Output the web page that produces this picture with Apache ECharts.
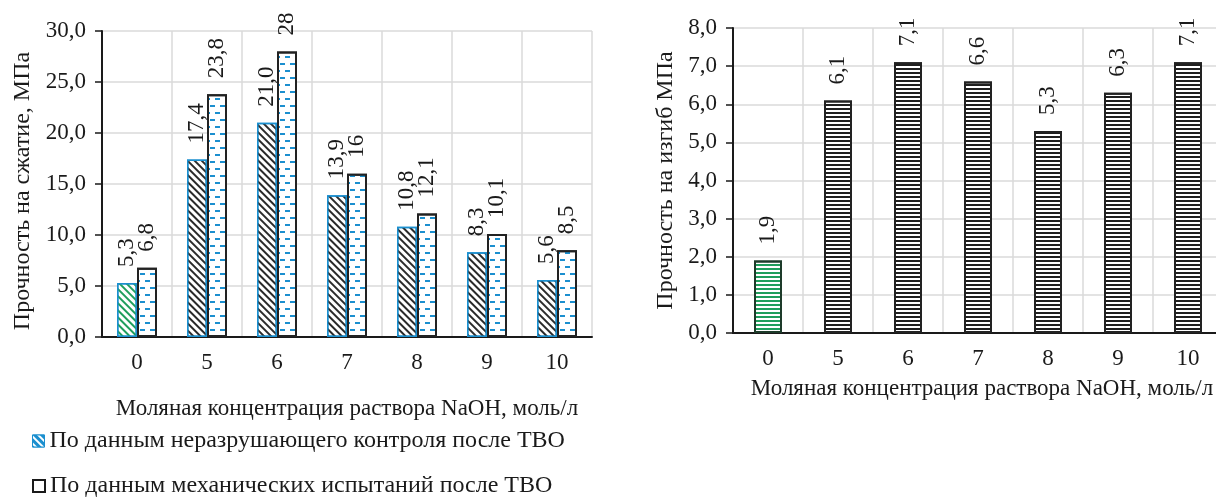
<!DOCTYPE html>
<html>
<head>
<meta charset="utf-8">
<script src="https://cdn.jsdelivr.net/npm/echarts@6/dist/echarts.min.js"></script>
<style>
  html, body { margin: 0; padding: 0; background: #ffffff; overflow: hidden; }
  #wrap { width: 1216px; height: 497px; overflow: hidden; }
  #chart { width: 1232px; height: 497px; }
</style>
</head>
<body>
<div id="wrap"><div id="chart"></div></div>
<script>
// NaOH molar concentration, mol/l
const categories = ['0', '5', '6', '7', '8', '9', '10'];

// Compressive strength, MPa
const ndtValues = [5.3, 17.4, 21.0, 13.9, 10.8, 8.3, 5.6];
const ndtLabels = ['5,3', '17,4', '21,0', '13,9', '10,8', '8,3', '5,6'];
const mechValues = [6.8, 23.8, 28, 16, 12.1, 10.1, 8.5];
const mechLabels = ['6,8', '23,8', '28', '16', '12,1', '10,1', '8,5'];

// Flexural strength, MPa
const bendValues = [1.9, 6.1, 7.1, 6.6, 5.3, 6.3, 7.1];
const bendLabels = ['1,9', '6,1', '7,1', '6,6', '5,3', '6,3', '7,1'];

// Y tick labels
const compressTicks = ['0,0', '5,0', '10,0', '15,0', '20,0', '25,0', '30,0'];
const bendTicks = ['0,0', '1,0', '2,0', '3,0', '4,0', '5,0', '6,0', '7,0', '8,0'];

const seriesNames = [
  'По данным неразрушающего контроля после ТВО',
  'По данным механических испытаний после ТВО'
];

const FONT = "'Liberation Serif', 'DejaVu Serif', serif";
const FS = 23;
const TEXT = '#1a1a1a';
const BLUE = '#1b8fcf';
const GREEN = '#1f9e5c';
const GRID = '#dadada';

const chart = echarts.init(document.getElementById('chart'), null, { renderer: 'canvas' });

const hatch = (color) => ({
  symbol: 'rect', symbolSize: 1,
  dashArrayX: [1, 0], dashArrayY: [1.8, 2.4],
  rotation: Math.PI / 4,
  color: color, backgroundColor: 'rgba(0,0,0,0)'
});
const dashes = {
  symbol: 'rect', symbolSize: 1,
  dashArrayX: [[5, 5], [0, 5, 5, 0]], dashArrayY: [2, 5],
  rotation: 0,
  color: BLUE, backgroundColor: 'rgba(0,0,0,0)'
};
const stripes = (color) => ({
  symbol: 'rect', symbolSize: 1,
  dashArrayX: [1, 0], dashArrayY: [1.2, 1.8],
  rotation: 0,
  color: color, backgroundColor: 'rgba(0,0,0,0)'
});

const valueLabel = (texts) => ({
  show: true,
  position: 'top',
  rotate: 90,
  align: 'left',
  verticalAlign: 'middle',
  distance: 16,
  fontFamily: FONT,
  fontSize: FS,
  color: TEXT,
  formatter: (p) => texts[p.dataIndex]
});

const catAxis = (gridIndex, nameGap, namePad) => ({
  type: 'category',
  gridIndex: gridIndex,
  data: categories,
  name: 'Моляная концентрация раствора NaOH, моль/л',
  nameLocation: 'middle',
  nameGap: nameGap,
  nameTextStyle: { fontFamily: FONT, fontSize: FS, color: TEXT, padding: namePad },
  axisLine: { lineStyle: { color: TEXT, width: 2 } },
  axisTick: { show: false },
  axisLabel: { fontFamily: FONT, fontSize: FS, color: TEXT, margin: 14 },
  splitLine: { show: true, lineStyle: { color: GRID, width: 1.5 } }
});

const valAxis = (gridIndex, max, interval, ticks, name, nameGap, namePad) => ({
  type: 'value',
  gridIndex: gridIndex,
  min: 0, max: max, interval: interval,
  name: name,
  nameLocation: 'middle',
  nameGap: nameGap,
  nameTextStyle: { fontFamily: FONT, fontSize: 24, color: TEXT, padding: namePad },
  axisLine: { show: true, lineStyle: { color: TEXT, width: 2 } },
  axisTick: { show: true, length: 7, lineStyle: { color: TEXT, width: 1.5 } },
  axisLabel: {
    fontFamily: FONT, fontSize: FS, color: TEXT, margin: 16,
    formatter: (v) => ticks[Math.round(v / interval)]
  },
  splitLine: { show: true, lineStyle: { color: GRID, width: 1.5 } }
});

const legendBox = (idx, top, style) => ({
  data: [{ name: seriesNames[idx], itemStyle: style }],
  orient: 'vertical',
  left: 32,
  top: top,
  padding: 0,
  itemWidth: 12,
  itemHeight: 12,
  itemGap: 4,
  icon: 'rect',
  textStyle: { fontFamily: FONT, fontSize: 24, color: TEXT, padding: [0, 0, 0, 0] }
});

const option = {
  backgroundColor: '#ffffff',
  animation: false,
  textStyle: { fontFamily: FONT },
  legend: [
    legendBox(0, 429, {
      color: BLUE, borderColor: BLUE, borderWidth: 1,
      decal: { symbol: 'rect', symbolSize: 1, dashArrayX: [1, 0], dashArrayY: [1.2, 2.2],
               rotation: Math.PI / 4, color: '#ffffff', backgroundColor: 'rgba(0,0,0,0)' }
    }),
    legendBox(1, 474, { color: '#ffffff', borderColor: TEXT, borderWidth: 2, decal: 'none' })
  ],
  grid: [
    { left: 102, top: 31, width: 490, height: 306 },
    { left: 733, top: 28, width: 490, height: 305 }
  ],
  xAxis: [catAxis(0, 60, [0, 0, 0, 0]), catAxis(1, 44, [0, 0, 0, 8])],
  yAxis: [
    valAxis(0, 30, 5, compressTicks, 'Прочность на сжатие, МПа', 67, [0, 14, 0, 0]),
    valAxis(1, 8, 1, bendTicks, 'Прочность на изгиб МПа', 55, [0, 0, 0, 0])
  ],
  series: [
    {
      name: seriesNames[0],
      type: 'bar',
      xAxisIndex: 0, yAxisIndex: 0,
      barWidth: 20,
      barGap: '0%',
      data: ndtValues.map((v, i) => i === 0
        ? { value: v, itemStyle: { decal: hatch(GREEN) } }
        : v),
      itemStyle: { color: '#ffffff', borderColor: BLUE, borderWidth: 1.5, decal: hatch('#2a2a2a') },
      label: valueLabel(ndtLabels)
    },
    {
      name: seriesNames[1],
      type: 'bar',
      xAxisIndex: 0, yAxisIndex: 0,
      barWidth: 20,
      barGap: '0%',
      data: mechValues,
      itemStyle: { color: '#ffffff', borderColor: '#222222', borderWidth: 2, decal: dashes },
      label: valueLabel(mechLabels)
    },
    {
      name: 'Прочность на изгиб',
      type: 'bar',
      xAxisIndex: 1, yAxisIndex: 1,
      barWidth: 28,
      data: bendValues.map((v, i) => i === 0
        ? { value: v, itemStyle: { borderColor: '#1d3b2a', decal: stripes(GREEN) } }
        : v),
      itemStyle: { color: '#ffffff', borderColor: '#222222', borderWidth: 2, decal: stripes('#1f1f1f') },
      label: valueLabel(bendLabels)
    }
  ]
};

chart.setOption(option);
</script>
</body>
</html>
